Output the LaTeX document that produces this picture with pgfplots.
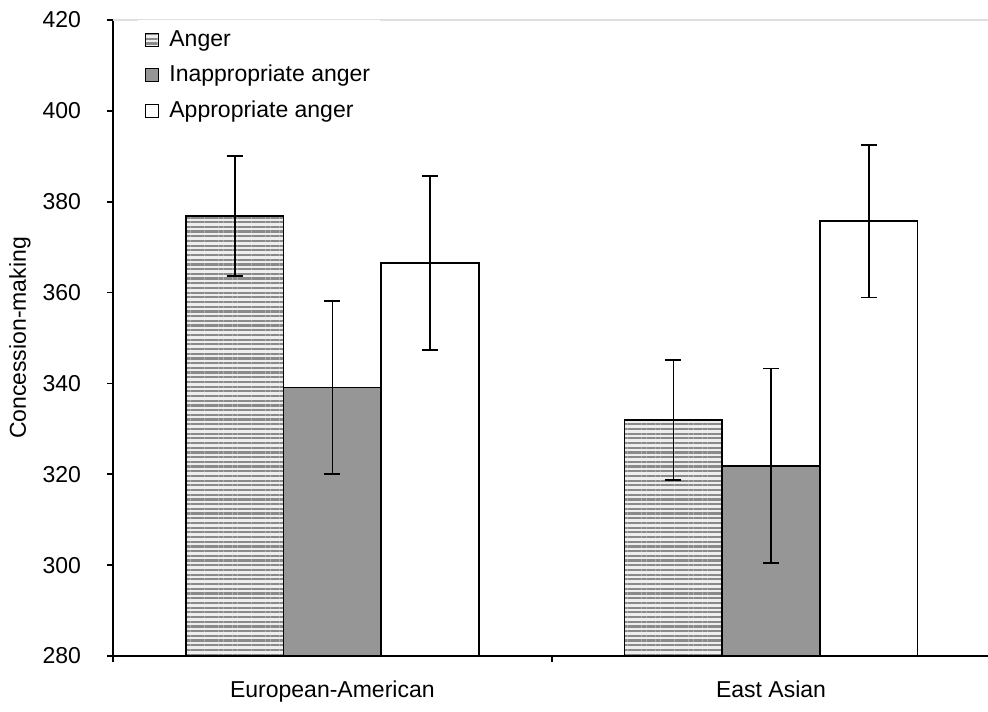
\documentclass[border=0pt]{standalone}
\usepackage{fontspec}
\setmainfont{Liberation Sans}
\usepackage{pgfplots}
\pgfplotsset{compat=1.18}
\usetikzlibrary{patterns.meta}
\definecolor{midgray}{HTML}{969696}
\definecolor{stripegray}{HTML}{8A8A8A}
\definecolor{stripebg}{HTML}{EEEEEE}
\pgfplotsset{
  sqleg/.style={legend image code/.code={\draw[##1,line width=0.6pt] (-0.5pt,-3.25pt) rectangle (6pt,3.25pt); \pgfpathrectangle{\pgfpoint{-1pt}{-3.5pt}}{\pgfpoint{10.5pt}{7pt}}\pgfusepath{use as bounding box}}},
  myerr/.style={error bars/.cd, y dir=both, y explicit,
    error bar style={line width=0.85pt, black, solid},
    error mark options={rotate=90, line width=0.85pt, mark size=4pt, black}},
}
\begin{document}
\begin{tikzpicture}
\begin{axis}[
  scale only axis, width=437.5pt, height=318pt,
  xmin=-0.5, xmax=1.4945, ymin=280, ymax=420,
  ybar=0pt, bar width=0.2227,
  clip mode=individual,
  axis x line*=bottom, axis y line*=left,
  axis line style={line width=0.85pt, black, -},
  ytick={280,300,...,420},
  tick align=outside, major tick length=3pt,
  tick style={black, line width=0.85pt},
  xtick={-0.5,0.5}, xticklabels={},
  extra x ticks={0,1}, extra x tick labels={European-American, East Asian},
  extra x tick style={major tick length=0pt, xticklabel style={yshift=-9pt}},
  ylabel={Concession-making},
  ylabel style={at={(axis description cs:-0.1063,0.5)}, anchor=center},
  label style={font=\fontsize{11.5}{13}\selectfont},
  tick label style={font=\fontsize{11.5}{13}\selectfont},
  /pgf/number format/assume math mode=true,
  yticklabel style={xshift=-9.5pt},
  legend style={at={(rel axis cs:0,1)}, anchor=north west, xshift=12.5pt, yshift=0pt,
    draw=none, fill=white, font=\fontsize{11.5}{13}\selectfont, row sep=4pt, inner sep=3pt},
  legend cell align=left,
]
\draw[gray!25, line width=1.2pt] (rel axis cs:0,1) -- (rel axis cs:1,1);
\addplot[fill=stripebg, draw=black, line width=0.85pt,
  postaction={pattern={Lines[angle=0,distance=2.35pt,line width=1.1pt]}, pattern color=stripegray},
  sqleg, myerr]
  coordinates {(0,376.9) +- (0,13.2) (1,331.9) +- (0,13.2)};
\addlegendentry{Anger}
\addplot[fill=midgray, draw=black, line width=0.85pt, sqleg, myerr]
  coordinates {(0,339.1) +- (0,19.1) (1,321.9) +- (0,21.4)};
\addlegendentry{Inappropriate anger}
\addplot[fill=white, draw=black, line width=0.85pt, sqleg, myerr]
  coordinates {(0,366.5) +- (0,19.1) (1,375.7) +- (0,16.8)};
\addlegendentry{Appropriate anger}
\coordinate (bl) at (rel axis cs:0,0);
\end{axis}
\pgfresetboundingbox
\path[use as bounding box] (bl) ++(-56.5pt,-27.5pt) rectangle ++(494pt,355.5pt);
\end{tikzpicture}
\end{document}
